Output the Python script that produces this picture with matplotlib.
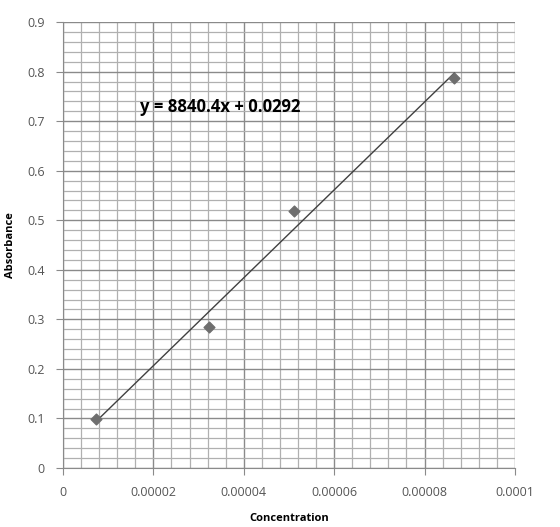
import numpy as np
import matplotlib.pyplot as plt
from matplotlib.ticker import MultipleLocator

conc = [0.0000073, 0.0000323, 0.0000511, 0.0000866]
absorb = [0.099, 0.284, 0.519, 0.787]
equation = 'y = 8840.4x + 0.0292'

plt.rcParams['font.family'] = ['Open Sans', 'DejaVu Sans']

fig = plt.figure(figsize=(5.6, 5.27), dpi=100)
ax = fig.add_axes([0.1125, 0.112, 0.807, 0.846])

# linear trendline over the data range
slope, icept = np.polyfit(conc, absorb, 1)
xs = np.array([min(conc), max(conc)])
ax.plot(xs, slope * xs + icept, color='#404040', lw=1.0, zorder=3)
ax.scatter(conc, absorb, marker='D', s=30, color='#6e6e6e', zorder=4)

ax.set_xlim(0, 0.0001)
ax.set_ylim(0, 0.9)
ax.xaxis.set_major_locator(MultipleLocator(0.00002))
ax.xaxis.set_minor_locator(MultipleLocator(0.000004))
ax.yaxis.set_major_locator(MultipleLocator(0.1))
ax.yaxis.set_minor_locator(MultipleLocator(0.02))
ax.set_xticks([0, 0.00002, 0.00004, 0.00006, 0.00008, 0.0001])
ax.set_xticklabels(['0', '0.00002', '0.00004', '0.00006', '0.00008', '0.0001'])
ax.set_yticks(np.arange(0, 0.91, 0.1))
ax.set_yticklabels(['0', '0.1', '0.2', '0.3', '0.4', '0.5', '0.6', '0.7', '0.8', '0.9'])

ax.grid(which='major', color='#8a8a8a', lw=1.0)
ax.grid(which='minor', color='#b0b0b0', lw=0.9)
ax.set_axisbelow(True)
for s in ['top', 'right']:
    ax.spines[s].set_visible(False)
for s in ['left', 'bottom']:
    ax.spines[s].set_color('#8a8a8a')
ax.tick_params(which='major', length=5, color='#8a8a8a', labelsize=9, labelcolor='#555555', pad=8)
ax.tick_params(which='minor', length=0)

ax.set_xlabel('Concentration', fontsize=8, fontweight='bold', labelpad=10)
ax.set_ylabel('Absorbance', fontsize=8, fontweight='bold', labelpad=8)

ax.text(0.000017, 0.728, equation, fontsize=12, fontweight='bold', va='center', ha='left')

fig.savefig('out.png')
